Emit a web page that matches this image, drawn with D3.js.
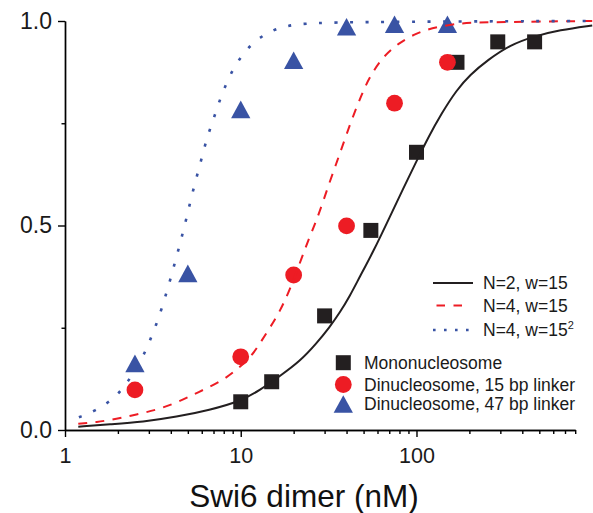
<!DOCTYPE html>
<html><head><meta charset="utf-8">
<script src="https://cdn.jsdelivr.net/npm/d3@7"></script>
<style>
body{margin:0;background:#fff}
svg{display:block}
text{font-family:"Liberation Sans",Arial,Helvetica,sans-serif}
</style></head>
<body><svg id="chart" width="593" height="513"></svg>
<script>
// ---------- data ----------
const xTicksMajor = [1, 10, 100];
const xTicksMinor = [2,3,4,5,6,7,8,9,20,30,40,50,60,70,80,90,200,300,400,500,600,700,800];
const yTicksMajor = [0, 0.5, 1.0];
const yTicksMinor = [0.25, 0.75];
const xTitle = "Swi6 dimer (nM)";

// measured points
const monoX = [10, 15, 30, 55, 100, 170, 290, 470];
const monoY = [0.069, 0.118, 0.279, 0.488, 0.679, 0.899, 0.949, 0.949];
const di15X = [2.5, 10, 20, 40, 75, 150];
const di15Y = [0.098, 0.179, 0.379, 0.499, 0.799, 0.899];
const di47X = [2.5, 5, 10, 20, 40, 75, 150];
const di47Y = [0.163, 0.383, 0.784, 0.904, 0.986, 0.992, 0.992];

// model curves
const curveN2w15 = [[1.19,0.008],[1.8,0.014],[2.78,0.020],[4.31,0.032],[6.66,0.049],[9.9,0.070],[12.8,0.097],[16.7,0.132],[21.7,0.168],[27,0.212],[32.1,0.252],[36.6,0.287],[41.7,0.327],[47.6,0.375],[56.6,0.435],[70.5,0.521],[83.9,0.590],[100,0.657],[116.5,0.715],[138.8,0.774],[169,0.831],[201,0.868],[255,0.905],[340,0.941],[461,0.962],[654,0.978],[1000,0.989]];
const curveN4w15 = [[1.19,0.015],[1.51,0.019],[1.96,0.027],[2.55,0.038],[3.31,0.049],[4.21,0.065],[5.24,0.084],[6.38,0.102],[7.93,0.122],[9.45,0.147],[11.25,0.175],[12.7,0.208],[14.6,0.249],[16.7,0.290],[19,0.342],[22.2,0.420],[24.7,0.473],[27,0.513],[29.4,0.558],[32.1,0.607],[35,0.652],[37.9,0.694],[42.7,0.758],[48.6,0.819],[54.2,0.864],[64.5,0.913],[78.6,0.945],[100,0.971],[130,0.986],[176,0.994],[219,0.997],[1000,1.0]];
const curveN4w225 = [[1.2,0.031],[1.46,0.045],[1.84,0.072],[2.22,0.108],[2.82,0.183],[3.06,0.222],[3.31,0.258],[3.55,0.297],[3.78,0.336],[4.0,0.372],[4.23,0.411],[4.48,0.450],[4.71,0.487],[4.95,0.524],[5.19,0.562],[5.47,0.601],[5.77,0.638],[6.10,0.677],[6.43,0.715],[6.90,0.752],[7.37,0.790],[7.93,0.828],[8.65,0.866],[9.65,0.903],[11.3,0.941],[13.8,0.969],[16.9,0.985],[20.7,0.992],[32,0.998],[1000,1.0]];

const lineLabels = ["N=2, w=15", "N=4, w=15", "N=4, w=15"];
const markerLabels = ["Mononucleosome", "Dinucleosome, 15 bp linker", "Dinucleosome, 47 bp linker"];

// ---------- style ----------
const BLACK = "#231f20", RED = "#ed1c24", BLUE = "#3953a4";
const FONT = '"Liberation Sans",Arial,Helvetica,sans-serif';

const svg = d3.select("#chart");
const x = d3.scaleLog().domain([1, 800]).range([65, 575.2]);
const y = d3.scaleLinear().domain([0, 1]).range([430, 21]);

function styleAxis(g, fs) {
  g.attr("font-family", FONT).attr("font-size", fs);
  g.selectAll("path.domain").attr("stroke", "#000").attr("stroke-width", 1.4);
  g.selectAll(".tick line").attr("stroke", "#000").attr("stroke-width", 1.4);
  g.selectAll(".tick text").attr("fill", "#1a1a1a");
}

// x axis
svg.append("g").attr("transform", "translate(0,430)")
  .call(d3.axisBottom(x).tickValues(xTicksMinor).tickSize(4).tickSizeOuter(0).tickFormat(""))
  .call(g => styleAxis(g, 21));
svg.append("g").attr("transform", "translate(0,430)")
  .call(d3.axisBottom(x).tickValues(xTicksMajor).tickSize(7).tickSizeOuter(0).tickPadding(11).tickFormat(d3.format("d")))
  .call(g => styleAxis(g, 21.5));

// y axis
svg.append("g").attr("transform", "translate(65,0)")
  .call(d3.axisLeft(y).tickValues(yTicksMinor).tickSize(3.5).tickSizeOuter(0).tickFormat(""))
  .call(g => styleAxis(g, 23));
svg.append("g").attr("transform", "translate(65,0)")
  .call(d3.axisLeft(y).tickValues(yTicksMajor).tickSize(7).tickSizeOuter(0).tickPadding(6).tickFormat(d3.format(".1f")))
  .call(g => styleAxis(g, 23));

// axis title
svg.append("text").attr("x", 304).attr("y", 507).attr("text-anchor", "middle")
  .attr("font-size", 31.5).attr("fill", "#111").text(xTitle);

// ---------- markers ----------
const triType = { draw(ctx, size) { const w = 19.3, h = 17.7; ctx.moveTo(0, -h/2); ctx.lineTo(w/2, h/2); ctx.lineTo(-w/2, h/2); ctx.closePath(); } };
const symSquare = d3.symbol().type(d3.symbolSquare).size(225);
const symCircle = d3.symbol().type(d3.symbolCircle).size(Math.PI * 8.4 * 8.4);
const symTri = d3.symbol().type(triType);

svg.append("g").selectAll("path").data(monoX.map((v, i) => [v, monoY[i]])).join("path")
  .attr("d", symSquare).attr("fill", BLACK)
  .attr("transform", d => `translate(${x(d[0])},${y(d[1])})`);
svg.append("g").selectAll("path").data(di15X.map((v, i) => [v, di15Y[i]])).join("path")
  .attr("d", symCircle).attr("fill", RED)
  .attr("transform", d => `translate(${x(d[0])},${y(d[1])})`);
svg.append("g").selectAll("path").data(di47X.map((v, i) => [v, di47Y[i]])).join("path")
  .attr("d", symTri).attr("fill", BLUE)
  .attr("transform", d => `translate(${x(d[0])},${y(d[1])})`);

// ---------- curves ----------
const line = d3.line().x(d => x(d[0])).y(d => y(d[1])).curve(d3.curveBasis);
svg.append("path").attr("d", line(curveN2w15)).attr("fill", "none")
  .attr("stroke", BLACK).attr("stroke-width", 2);
svg.append("path").attr("d", line(curveN4w15)).attr("fill", "none")
  .attr("stroke", RED).attr("stroke-width", 2).attr("stroke-dasharray", "9,8.3");
svg.append("path").attr("d", line(curveN4w225)).attr("fill", "none")
  .attr("stroke", BLUE).attr("stroke-width", 2.6).attr("stroke-dasharray", "3,12.5");

// ---------- legend ----------
const lg = svg.append("g").attr("font-family", FONT).attr("font-size", 17.5).attr("fill", "#1a1a1a");
const lineRows = [283, 305.5, 330];
lg.append("line").attr("x1", 433).attr("x2", 473).attr("y1", lineRows[0]).attr("y2", lineRows[0])
  .attr("stroke", BLACK).attr("stroke-width", 2);
lg.append("line").attr("x1", 436.5).attr("x2", 462).attr("y1", lineRows[1]).attr("y2", lineRows[1])
  .attr("stroke", RED).attr("stroke-width", 2).attr("stroke-dasharray", "8.5,8.5");
lg.append("line").attr("x1", 433).attr("x2", 469).attr("y1", lineRows[2]).attr("y2", lineRows[2])
  .attr("stroke", BLUE).attr("stroke-width", 2.6).attr("stroke-dasharray", "2.6,8.4");
lineLabels.forEach((t, i) => {
  const tx = lg.append("text").attr("x", 483).attr("y", lineRows[i]).attr("dy", "0.35em").text(t);
  if (i === 2) tx.append("tspan").attr("font-size", 11).attr("dy", -7).text("2");
});

const markRows = [362.7, 384.5, 404];
const legSyms = [[symSquare, BLACK], [symCircle, RED], [symTri, BLUE]];
markerLabels.forEach((t, i) => {
  lg.append("path").attr("d", legSyms[i][0]).attr("fill", legSyms[i][1])
    .attr("transform", `translate(343.3,${markRows[i]})`);
  lg.append("text").attr("x", 364).attr("y", markRows[i]).attr("dy", "0.35em").text(t);
});
</script></body></html>
